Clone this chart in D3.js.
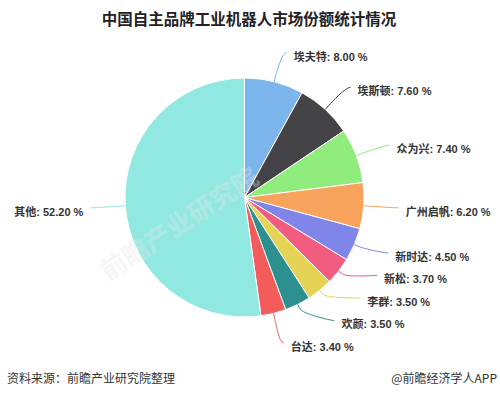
<!DOCTYPE html>
<html>
<head>
<meta charset="utf-8">
<script src="https://cdn.jsdelivr.net/npm/d3@7"></script>
<style>
  body { margin: 0; background: #fff; }
  svg { display: block; font-family: "Liberation Sans", Arial, "Noto Sans CJK SC", sans-serif; }
</style>
</head>
<body>
<svg id="chart" width="500" height="395"></svg>
<script>
const names = ['埃夫特', '埃斯顿', '众为兴', '广州启帆', '新时达', '新松', '李群', '欢颜', '台达', '其他'];
const shares = [8.0, 7.6, 7.4, 6.2, 4.5, 3.7, 3.5, 3.5, 3.4, 52.2];
const colors = ['#7cb5ec', '#434348', '#90ed7d', '#f7a35c', '#8085e9', '#f15c80', '#e4d354', '#2b908f', '#f45b5b', '#91e8e1'];

const width = 500;
const height = 395;
const cx = 244.5;
const cy = 197.5;
const radius = 119.5;
const labelDistance = 30;
const labelGap = 22.5;
const maxLabelY = 343;

const svg = d3.select('#chart');

svg.append('text')
  .attr('x', 249)
  .attr('y', 18)
  .attr('text-anchor', 'middle')
  .attr('dominant-baseline', 'central')
  .style('font-family', '"Noto Sans CJK SC", sans-serif')
  .style('font-size', '15.5px')
  .style('font-weight', 'bold')
  .style('fill', '#222')
  .text('中国自主品牌工业机器人市场份额统计情况');

const pieData = names.map((name, i) => ({ name: name, value: shares[i], color: colors[i] }));

const pie = d3.pie()
  .value(d => d.value)
  .sort(null);

const arcs = pie(pieData);
const createArc = d3.arc().innerRadius(0).outerRadius(radius);

const g = svg.append('g').attr('transform', `translate(${cx},${cy})`);

g.selectAll('path.arc')
  .data(arcs)
  .enter()
  .append('path')
  .attr('class', 'arc')
  .attr('d', createArc)
  .attr('fill', d => d.data.color)
  .attr('stroke', '#fff')
  .attr('stroke-width', 1);

// faint watermark over the pie
svg.append('text')
  .attr('transform', 'translate(178,222) rotate(-33)')
  .attr('text-anchor', 'middle')
  .attr('dominant-baseline', 'central')
  .style('font-family', '"Noto Sans CJK SC", sans-serif')
  .style('font-size', '26px')
  .style('font-weight', 'bold')
  .style('fill', '#e8e8e8')
  .style('opacity', 0.35)
  .text('前瞻产业研究院');

// label layout, roughly like highcharts pie dataLabels
const R = radius + labelDistance;
const labels = arcs.map(d => {
  const a = (d.startAngle + d.endAngle) / 2;
  return {
    d: d,
    a: a,
    dir: Math.sin(a) >= 0 ? 1 : -1,
    y: -R * Math.cos(a)
  };
});

[1, -1].forEach(dir => {
  const side = labels.filter(l => l.dir === dir).sort((p, q) => p.y - q.y);
  for (let i = 1; i < side.length; i++) {
    side[i].y = Math.max(side[i].y, side[i - 1].y + labelGap);
  }
  const bottom = maxLabelY - cy;
  if (side.length) side[side.length - 1].y = Math.min(side[side.length - 1].y, bottom);
  for (let i = side.length - 2; i >= 0; i--) {
    side[i].y = Math.min(side[i].y, side[i + 1].y - labelGap);
  }
});

labels.forEach(l => {
  const dy = Math.max(-R, Math.min(R, l.y));
  l.x = l.dir * Math.sqrt(R * R - dy * dy);
});

const pt = (r, a) => [r * Math.sin(a), -r * Math.cos(a)];

const lab = g.selectAll('g.label')
  .data(labels)
  .enter()
  .append('g')
  .attr('class', 'label');

lab.append('path')
  .attr('d', l => {
    const p4 = pt(radius, l.a);
    const p2 = pt(radius + 5, l.a);
    const path = d3.path();
    path.moveTo(l.x + 5 * l.dir, l.y);
    path.bezierCurveTo(l.x, l.y, 2 * p2[0] - p4[0], 2 * p2[1] - p4[1], p2[0], p2[1]);
    path.lineTo(p4[0], p4[1]);
    return path.toString();
  })
  .attr('fill', 'none')
  .attr('stroke', l => l.d.data.color)
  .attr('stroke-width', 1);

lab.append('text')
  .attr('x', l => l.x + 12 * l.dir)
  .attr('y', l => l.y + 4)
  .attr('dy', '0.35em')
  .attr('text-anchor', l => l.dir > 0 ? 'start' : 'end')
  .style('font-size', '11px')
  .style('font-weight', 'bold')
  .style('fill', '#333')
  .text(l => `${l.d.data.name}: ${l.d.data.value.toFixed(2)} %`);

svg.append('text')
  .attr('x', 7)
  .attr('y', 377)
  .attr('dominant-baseline', 'central')
  .style('font-family', '"Noto Sans CJK SC", sans-serif')
  .style('font-size', '12px')
  .style('fill', '#333')
  .text('资料来源：前瞻产业研究院整理');

svg.append('text')
  .attr('x', 497)
  .attr('y', 377)
  .attr('text-anchor', 'end')
  .attr('dominant-baseline', 'central')
  .style('font-family', '"Noto Sans CJK SC", sans-serif')
  .style('font-size', '12px')
  .style('fill', '#333')
  .text('@前瞻经济学人APP');
</script>
</body>
</html>
